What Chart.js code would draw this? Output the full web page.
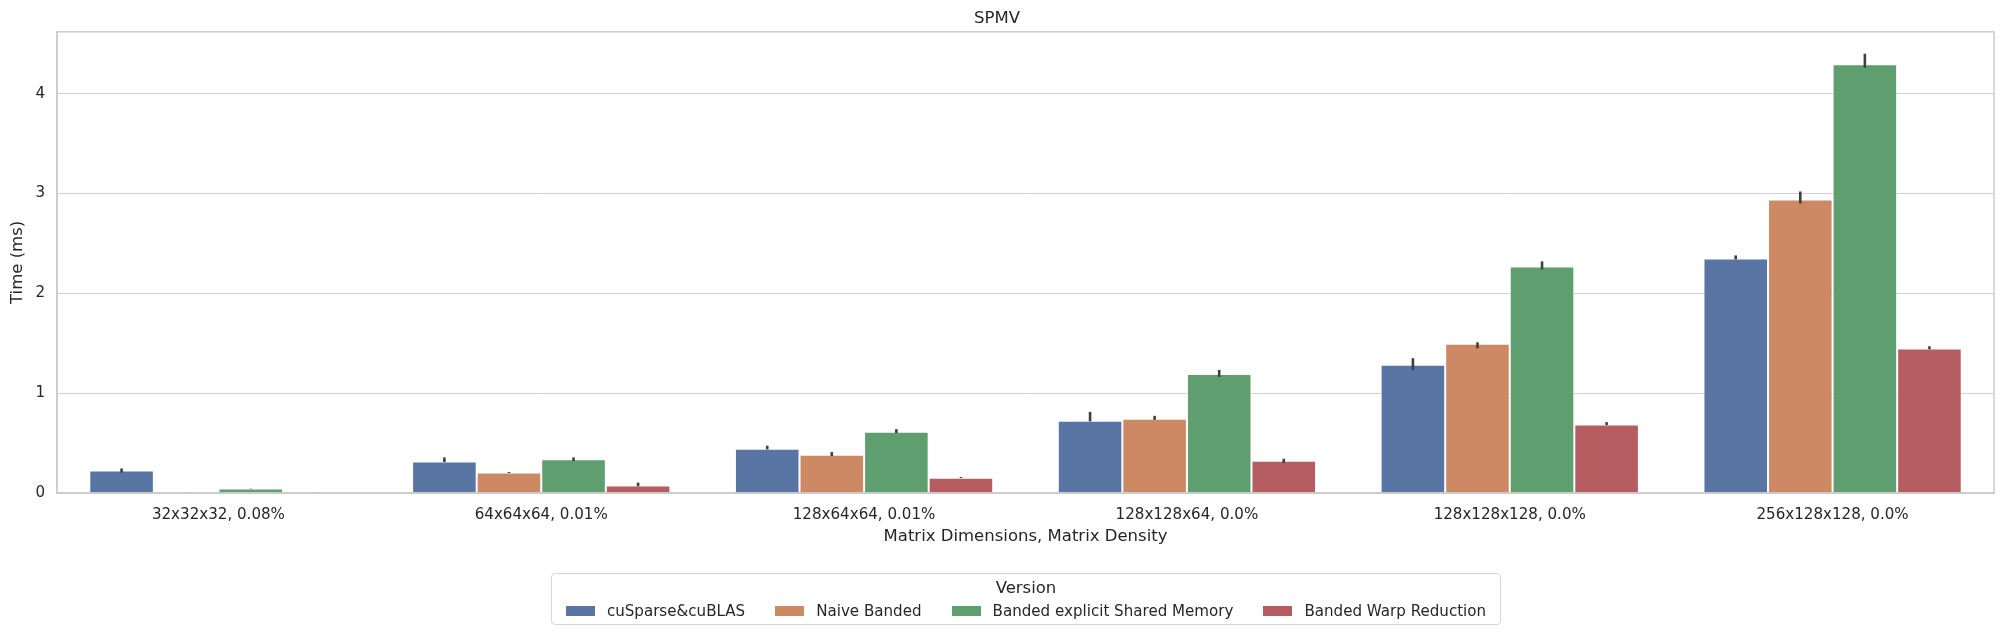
<!DOCTYPE html>
<html>
<head>
<meta charset="utf-8">
<script src="https://cdn.jsdelivr.net/npm/chart.js@4/dist/chart.umd.min.js"></script>
<style>
  html, body { margin: 0; padding: 0; background: #fff; }
  #wrap { position: relative; width: 2004px; height: 635px; }
  #legend {
    position: absolute; left: 551px; top: 573px; width: 948px; height: 50px;
    border: 1px solid #d6d6d6; border-radius: 4px; box-sizing: content-box;
    font-family: 'DejaVu Sans', sans-serif; color: #262626;
  }
  #legend .ttl { position: absolute; top: 4px; width: 100%; text-align: center; font-size: 16.5px; line-height: 20px; }
  #legend .items { position: absolute; top: 28px; width: 100%; display: flex; justify-content: center; gap: 30px; font-size: 15.1px; line-height: 18px; }
  #legend .item { display: flex; align-items: center; white-space: nowrap; flex-shrink: 0; }
  #legend .sw { width: 29px; height: 10px; margin-right: 12px; flex-shrink: 0; }
</style>
</head>
<body>
<div id="wrap">
  <canvas id="spmvChart" width="2004" height="635"></canvas>
  <div id="legend"><div class="ttl">Version</div><div class="items" id="legend-items"></div></div>
</div>
<script>
const categories = ['32x32x32, 0.08%', '64x64x64, 0.01%', '128x64x64, 0.01%', '128x128x64, 0.0%', '128x128x128, 0.0%', '256x128x128, 0.0%'];
const versions = ['cuSparse&cuBLAS', 'Naive Banded', 'Banded explicit Shared Memory', 'Banded Warp Reduction'];

// mean times (ms)
const cusparseTimes = [0.226, 0.316, 0.443, 0.723, 1.285, 2.349];
const naiveTimes = [0.005, 0.205, 0.383, 0.743, 1.495, 2.939];
const sharedTimes = [0.044, 0.337, 0.613, 1.193, 2.27, 4.294];
const warpTimes = [0.005, 0.074, 0.153, 0.323, 0.685, 1.448];

// confidence intervals [low, high]
const cusparseCI = [[0.205, 0.246], [0.31, 0.357], [0.437, 0.473], [0.717, 0.813], [1.23, 1.35], [2.34, 2.38]];
const naiveCI = [[0.004, 0.006], [0.2, 0.21], [0.37, 0.41], [0.733, 0.773], [1.45, 1.51], [2.90, 3.02]];
const sharedCI = [[0.043, 0.046], [0.32, 0.357], [0.60, 0.64], [1.163, 1.233], [2.24, 2.32], [4.26, 4.40]];
const warpCI = [[0.004, 0.006], [0.067, 0.104], [0.15, 0.16], [0.30, 0.343], [0.68, 0.71], [1.44, 1.47]];

const yTicks = [0, 1, 2, 3, 4];
const yMax = 4.62;

const colors = ['#5975a4', '#cc8963', '#5f9e6e', '#b55d60'];
const textColor = '#262626';
const gridColor = '#d0d0d0';
const font = "'DejaVu Sans', sans-serif";

const seriesValues = [cusparseTimes, naiveTimes, sharedTimes, warpTimes];
const seriesCI = [cusparseCI, naiveCI, sharedCI, warpCI];

// Error bars drawn at each bar's x, using the y scale
const errorBars = {
  id: 'errorBars',
  afterDatasetsDraw(chart) {
    const ctx = chart.ctx;
    const y = chart.scales.y;
    ctx.save();
    ctx.strokeStyle = '#3f3f3f';
    ctx.lineWidth = 2.6;
    ctx.lineCap = 'butt';
    chart.data.datasets.forEach((ds, i) => {
      const meta = chart.getDatasetMeta(i);
      meta.data.forEach((bar, j) => {
        const ci = ds.ci[j];
        if (!ci) return;
        ctx.beginPath();
        ctx.moveTo(bar.x, y.getPixelForValue(ci[0]));
        ctx.lineTo(bar.x, y.getPixelForValue(ci[1]));
        ctx.stroke();
      });
    });
    ctx.restore();
  }
};

// Four-sided frame round the plot area
const frame = {
  id: 'frame',
  afterDraw(chart) {
    const { ctx, chartArea: a } = chart;
    ctx.save();
    ctx.strokeStyle = '#cccccc';
    ctx.lineWidth = 1.5;
    ctx.strokeRect(a.left, a.top, a.right - a.left, a.bottom - a.top);
    ctx.restore();
  }
};

new Chart(document.getElementById('spmvChart'), {
  type: 'bar',
  data: {
    labels: categories,
    datasets: versions.map((label, i) => ({
      label,
      data: seriesValues[i],
      ci: seriesCI[i],
      backgroundColor: colors[i],
      borderColor: '#ffffff',
      borderWidth: 1,
      categoryPercentage: 0.8,
      barPercentage: 1.0
    }))
  },
  options: {
    responsive: false,
    animation: false,
    layout: { padding: { left: 0, right: 10, top: 0, bottom: 82 } },
    plugins: {
      legend: { display: false },
      tooltip: { enabled: false },
      title: {
        display: true,
        text: 'SPMV',
        color: textColor,
        font: { family: font, size: 16.5, weight: 'normal' },
        padding: { top: 9, bottom: 3 }
      }
    },
    scales: {
      x: {
        afterFit: s => { s.height = 60; },
        grid: { display: false, drawTicks: false },
        border: { color: '#cccccc', width: 1.5 },
        ticks: { color: textColor, font: { family: font, size: 15.1 }, padding: 13, maxRotation: 0, autoSkip: false },
        title: {
          display: true,
          text: 'Matrix Dimensions, Matrix Density',
          color: textColor,
          font: { family: font, size: 16.5 },
          padding: { top: 0, bottom: 6 }
        }
      },
      y: {
        min: 0,
        max: yMax,
        afterFit: s => { s.width = 57; },
        afterBuildTicks: s => { s.ticks = yTicks.map(v => ({ value: v })); },
        grid: { color: gridColor, lineWidth: 1, drawTicks: false },
        border: { color: '#cccccc', width: 1.5 },
        ticks: { color: textColor, font: { family: font, size: 15.1 }, padding: 12 },
        title: {
          display: true,
          text: 'Time (ms)',
          color: textColor,
          font: { family: font, size: 16.5 },
          padding: { top: 8, bottom: 0 }
        }
      }
    }
  },
  plugins: [errorBars, frame]
});

// HTML legend
const items = document.getElementById('legend-items');
versions.forEach((v, i) => {
  const el = document.createElement('div');
  el.className = 'item';
  el.innerHTML = '<span class="sw" style="background:' + colors[i] + '"></span><span>' + v + '</span>';
  items.appendChild(el);
});
</script>
</body>
</html>
